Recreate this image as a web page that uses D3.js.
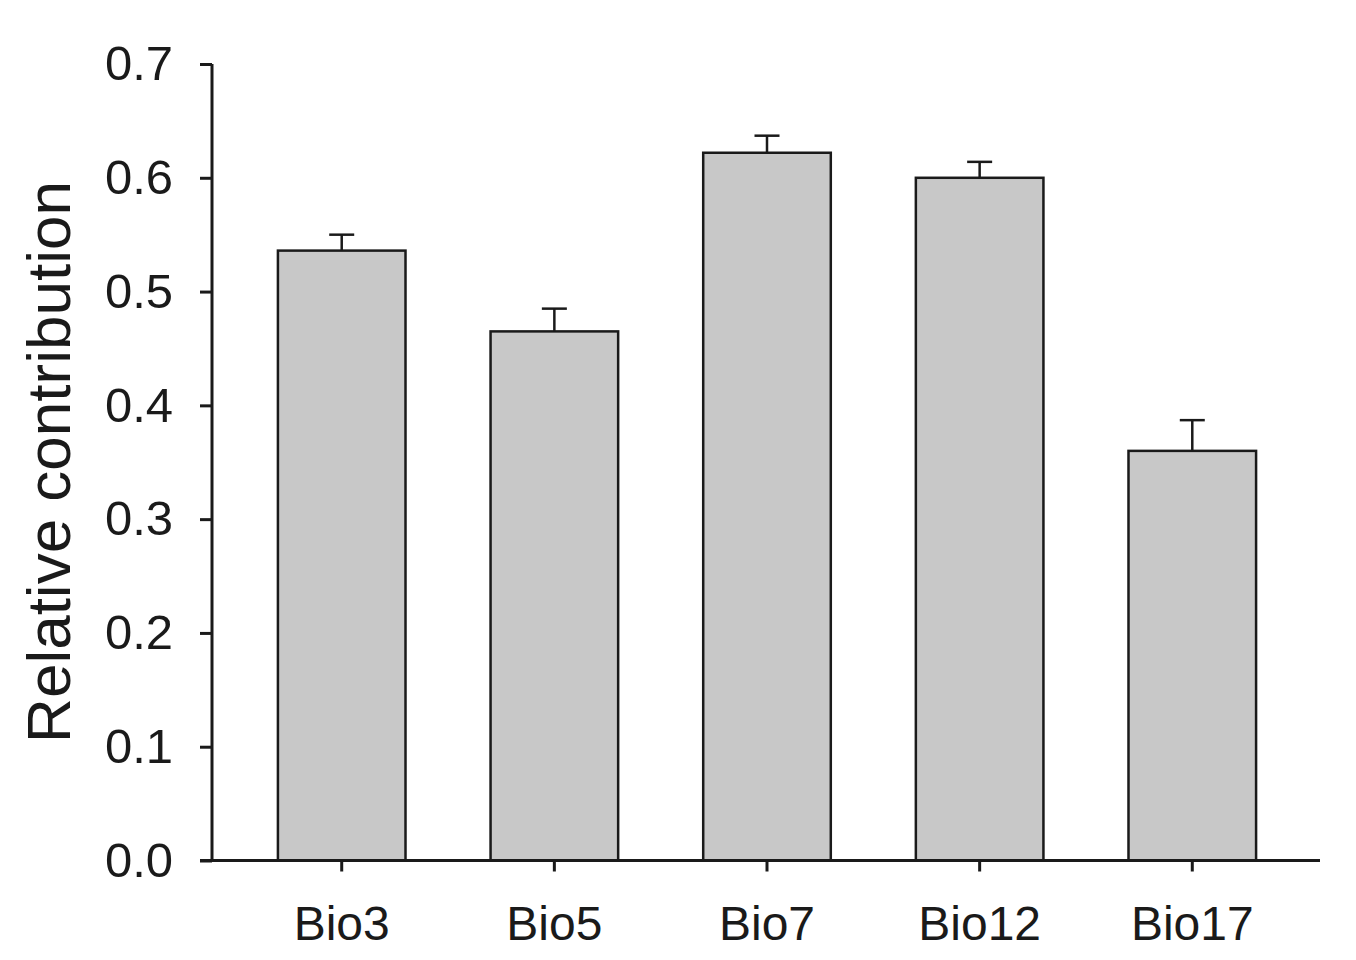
<!DOCTYPE html>
<html>
<head>
<meta charset="utf-8">
<script src="https://cdn.jsdelivr.net/npm/d3@7"></script>
<style>
  html, body { margin: 0; padding: 0; background: #ffffff; }
  svg { display: block; }
  text { font-family: "Liberation Sans", Arial, sans-serif; fill: #1a1a1a; }
</style>
</head>
<body>
<script>
const categories = ["Bio3", "Bio5", "Bio7", "Bio12", "Bio17"];
const values = [0.536, 0.465, 0.622, 0.600, 0.360];
const errors = [0.014, 0.020, 0.015, 0.014, 0.027];
const yTicks = [0.0, 0.1, 0.2, 0.3, 0.4, 0.5, 0.6, 0.7];
const yLabel = "Relative contribution";

const W = 1356, H = 960;
const svg = d3.select("body").append("svg").attr("width", W).attr("height", H);

const x = d3.scaleBand().domain(categories).range([212, 1322]).paddingInner(0.4).paddingOuter(0.31);
const y = d3.scaleLinear().domain([0, 0.7]).range([860.5, 64]);

const ink = "#1a1a1a";

// bars
svg.selectAll("rect.bar").data(categories).enter().append("rect")
  .attr("class", "bar")
  .attr("x", d => x(d))
  .attr("width", x.bandwidth())
  .attr("y", (d, i) => y(values[i]))
  .attr("height", (d, i) => y(0) - y(values[i]))
  .attr("fill", "#c8c8c8")
  .attr("stroke", ink)
  .attr("stroke-width", 2.5);

// error bars (upper only)
const capHalf = 12.5;
categories.forEach((c, i) => {
  const cx = x(c) + x.bandwidth() / 2;
  svg.append("line").attr("x1", cx).attr("x2", cx)
    .attr("y1", y(values[i])).attr("y2", y(values[i] + errors[i]))
    .attr("stroke", ink).attr("stroke-width", 2.5);
  svg.append("line").attr("x1", cx - capHalf).attr("x2", cx + capHalf)
    .attr("y1", y(values[i] + errors[i])).attr("y2", y(values[i] + errors[i]))
    .attr("stroke", ink).attr("stroke-width", 2.5);
});

// y axis
const yAxis = d3.axisLeft(y).tickValues(yTicks).tickFormat(d3.format(".1f")).tickSize(12).tickPadding(27);
const gy = svg.append("g").attr("transform", "translate(212,0)").call(yAxis);
gy.select(".domain").attr("stroke", ink).attr("stroke-width", 3).attr("d", `M0,${y(0.7)}V${y(0)}`);
gy.selectAll(".tick line").attr("stroke", ink).attr("stroke-width", 3);
gy.selectAll(".tick text").style("font-size", "49px").attr("fill", ink).attr("font-family", "Liberation Sans, Arial, sans-serif");

// x axis
const xAxis = d3.axisBottom(x).tickSize(11).tickPadding(34);
const gx = svg.append("g").attr("transform", `translate(0,${y(0)})`).call(xAxis);
gx.select(".domain").attr("stroke", ink).attr("stroke-width", 3).attr("d", "M200,0H1320");
gx.selectAll(".tick line").attr("stroke", ink).attr("stroke-width", 3);
gx.selectAll(".tick text").style("font-size", "48px").attr("fill", ink).attr("font-family", "Liberation Sans, Arial, sans-serif");

// y label
svg.append("text")
  .attr("transform", "translate(70,462) rotate(-90)")
  .attr("text-anchor", "middle")
  .style("font-size", "62px")
  .text(yLabel);
</script>
</body>
</html>
